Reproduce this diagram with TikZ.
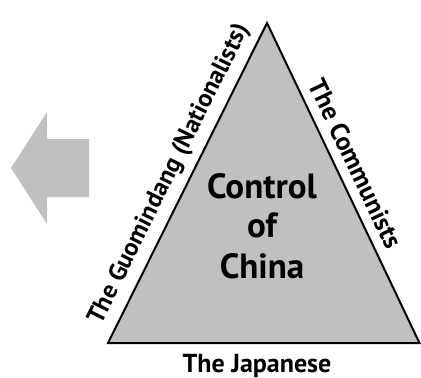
\documentclass[tikz,border=0pt]{standalone}
\usepackage{fontspec}
\setmainfont{PT Sans}
\definecolor{fillgray}{HTML}{C0C0C0}
\begin{document}
\begin{tikzpicture}[x=1pt,y=-1pt,
  sidelabel/.style={font=\bfseries\fontsize{25}{28}\selectfont, sloped, above, inner sep=8pt},
  bigtext/.style={font=\bfseries\fontsize{35}{40}\selectfont, align=center},
  tri/.style={draw=black, line width=2pt, fill=fillgray, line join=miter},
  arrowshape/.style={fill=fillgray, draw=none}]
\useasboundingbox (0,0) rectangle (421,378);
% left arrow
\fill[arrowshape] (11,168) -- (47,112) -- (47,139) -- (89,139) -- (89,197) -- (47,197) -- (47,224) -- cycle;
% triangle
\coordinate (A) at (267,23);
\coordinate (B) at (108,343);
\coordinate (C) at (419.5,343);
\draw[tri] (A) -- (C) -- (B) -- cycle;
\path (B) -- node[sidelabel, pos=0.5] (gmd) {The Guomindang (Nationalists)} (A);
\path (A) -- node[sidelabel, pos=0.465, inner sep=10pt, font=\bfseries\fontsize{26}{28}\selectfont] (com) {The Communists} (C);
\node[font=\bfseries\fontsize{26}{28}\selectfont, anchor=base] (jap) at (257,372) {The Japanese};
\node[bigtext, anchor=base] (ctl) at (262,198) {Control};
\node[bigtext, anchor=base] (of) at (262,237) {of};
\node[bigtext, anchor=base] (chn) at (262,278) {China};
\end{tikzpicture}
\end{document}
